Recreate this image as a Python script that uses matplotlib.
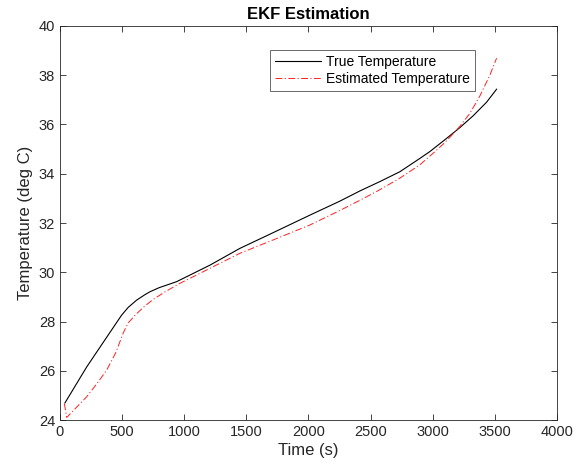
import numpy as np
import matplotlib
matplotlib.use('Agg')
import matplotlib.pyplot as plt

plt.rcParams['font.family'] = ['Liberation Sans', 'DejaVu Sans']

# values (time in s, temperature in deg C)
t_true = [40, 100, 215, 350, 496, 550, 617, 680, 724, 800, 939, 1207, 1448,
          1700, 2012, 2250, 2414, 2575, 2736, 2897, 2978, 3099, 3219, 3326,
          3434, 3515]
T_true = [24.70, 25.20, 26.16, 27.17, 28.26, 28.58, 28.87, 29.08, 29.21, 29.38,
          29.62, 30.29, 30.97, 31.57, 32.32, 32.88, 33.30, 33.68, 34.08, 34.62,
          34.90, 35.38, 35.87, 36.35, 36.90, 37.43]

t_est = [35, 54, 100, 215, 300, 376, 450, 510, 550, 603, 680, 751, 850, 965,
         1448, 1700, 2012, 2250, 2414, 2575, 2736, 2897, 3004, 3085, 3139,
         3219, 3300, 3380, 3461, 3515]
T_est = [24.68, 24.11, 24.35, 24.95, 25.50, 26.03, 26.75, 27.55, 27.95, 28.25,
         28.62, 28.90, 29.22, 29.55, 30.77, 31.28, 31.92, 32.50, 32.92, 33.35,
         33.82, 34.36, 34.83, 35.20, 35.48, 35.92, 36.45, 37.15, 38.00, 38.69]

ax_color = '#262626'

fig = plt.figure(figsize=(5.88, 4.70), dpi=100)
ax = fig.add_axes([0.102, 0.106, 0.845, 0.839])

ax.plot(t_true, T_true, color='black', linewidth=0.8, label='True Temperature')
ax.plot(t_est, T_est, color='#ff2020', linewidth=0.7,
        linestyle=(0, (7, 2.5, 1.2, 2.5)), label='Estimated Temperature')

ax.set_xlim(0, 4000)
ax.set_ylim(24, 40)
ax.set_xticks(np.arange(0, 4001, 500))
ax.set_yticks(np.arange(24, 41, 2))

ax.tick_params(direction='in', length=4, width=0.6, colors=ax_color,
               labelsize=10.5, top=True, right=True, labeltop=False,
               labelright=False)
for s in ax.spines.values():
    s.set_linewidth(0.6)
    s.set_color(ax_color)

ax.set_xlabel('Time (s)', fontsize=12, color=ax_color, labelpad=3)
ax.set_ylabel('Temperature (deg C)', fontsize=12, color=ax_color)
ax.set_title('EKF Estimation', fontsize=12, fontweight='bold', pad=5)

leg = ax.legend(loc='upper left', bbox_to_anchor=(0.4225, 0.939), fontsize=10,
                handlelength=3.3, frameon=True, fancybox=False,
                borderpad=0.35, labelspacing=0.25, handletextpad=0.4,
                borderaxespad=0)
leg.get_frame().set_edgecolor(ax_color)
leg.get_frame().set_linewidth(0.6)

fig.savefig('out.png', dpi=100)
